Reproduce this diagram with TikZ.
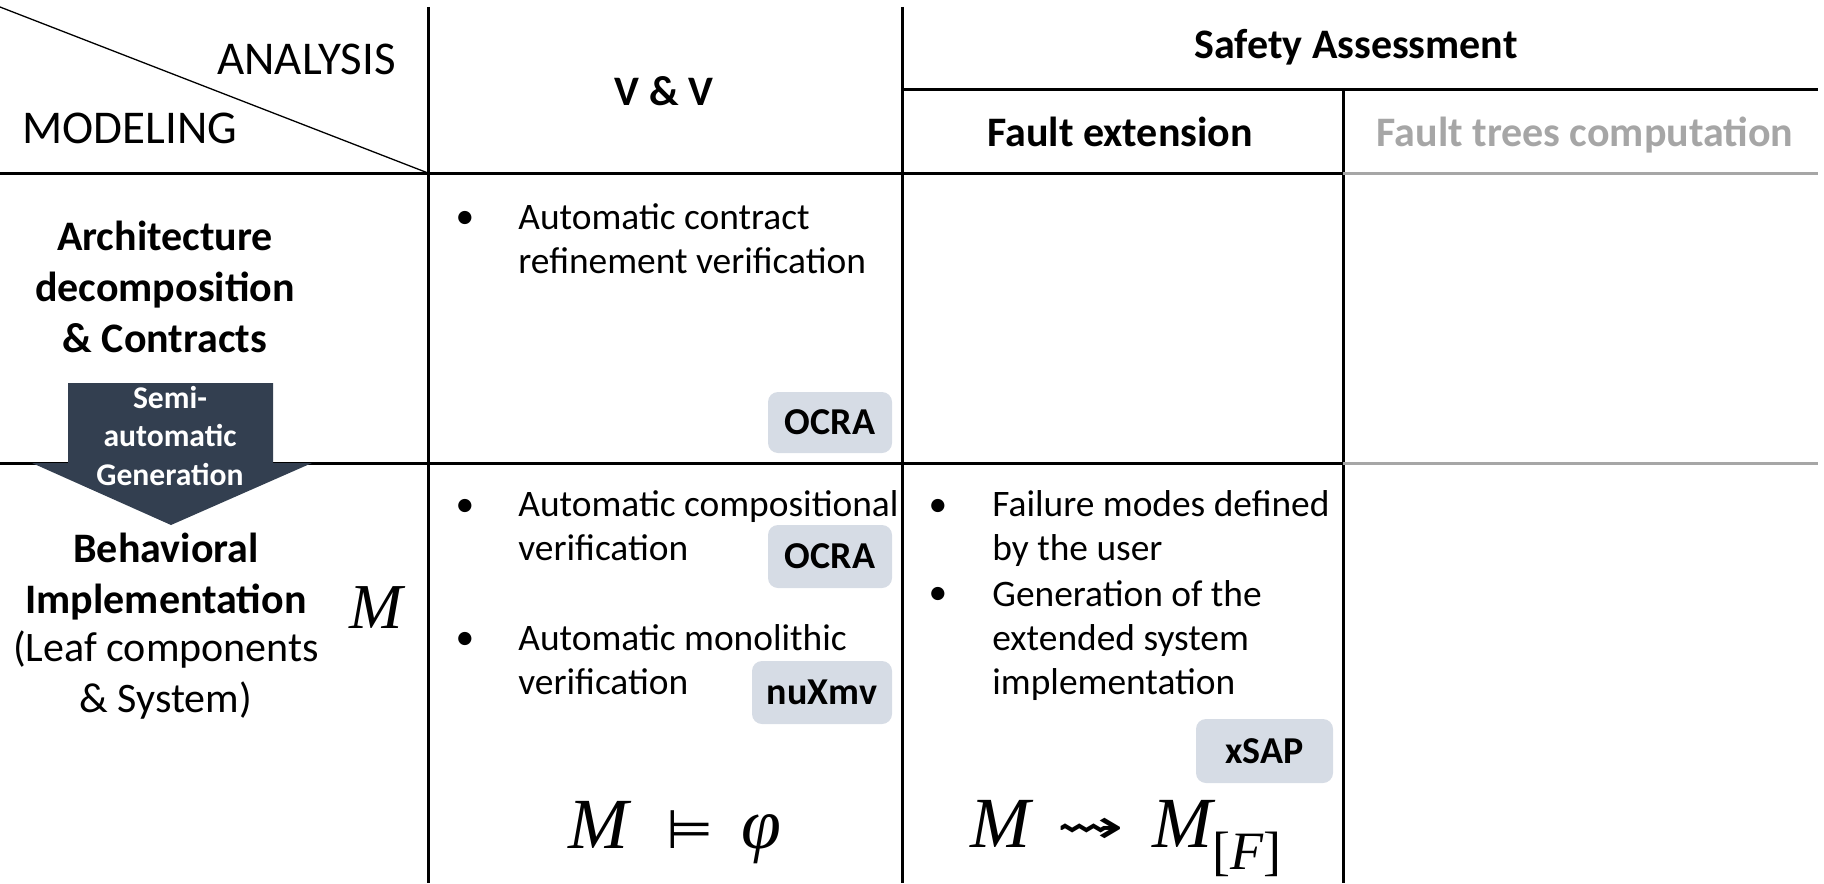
\documentclass[tikz,border=0pt]{standalone}
\usepackage{fontspec}
\setmainfont{Carlito}
\newfontfamily\mathser{Liberation Serif}
\newfontfamily\symfont{DejaVu Sans}
\usetikzlibrary{positioning,calc}
\definecolor{slate}{HTML}{333F50}
\definecolor{toolgray}{HTML}{D6DCE5}
\definecolor{fadegray}{HTML}{A6A6A6}
\tikzset{
  % tabell
  tabline/.style={draw=black,line width=1.5pt},
  tabfade/.style={draw=fadegray,line width=1.5pt},
  slash/.style={draw=black,line width=0.65pt},
  % rubriker
  corner/.style={font=\fontsize{23.5}{28}\selectfont,inner sep=0pt},
  hdr/.style={font=\fontsize{21}{25}\selectfont\bfseries,inner sep=0pt},
  rowhdr/.style={font=\fontsize{21}{25.5}\selectfont,align=center,inner sep=0pt},
  genlbl/.style={font=\fontsize{15.8}{19.25}\selectfont\bfseries,text=white,
                 align=center,inner sep=0pt},
  % celler
  body/.style={font=\fontsize{18.7}{22}\selectfont,align=left,inner sep=0pt},
  dot/.style={font=\fontsize{18.7}{22}\selectfont,inner sep=0pt,anchor=base},
  tool/.style={fill=toolgray,rounded corners=5pt,inner sep=0pt,
               font=\fontsize{19}{22}\selectfont\bfseries},
  formula/.style={font=\mathser\fontsize{36}{40}\selectfont\itshape,inner sep=0pt,
                  anchor=base west},
}

\begin{document}
\begin{tikzpicture}[x=0.5pt,y=-0.5pt]
  \useasboundingbox (0,0) rectangle (1824,883);
  % rutnätets hörn
  \coordinate (diag) at (0,7);
  \coordinate (c1t) at (428,7);    \coordinate (c1b) at (428,883);
  \coordinate (c2t) at (902,7);    \coordinate (c2b) at (902,883);
  \coordinate (c3t) at (1343,90);  \coordinate (c3b) at (1343,883);
  \coordinate (r0a) at (902,90);   \coordinate (r0b) at (1818,90);
  \coordinate (r1a) at (0,173);    \coordinate (r1m) at (1343,173);  \coordinate (r1b) at (1818,173);
  \coordinate (r2a) at (0,463);    \coordinate (r2m) at (1343,463);  \coordinate (r2b) at (1818,463);
  \draw[slash] (diag) -- (c1t |- r1a);
  \draw[tabline] (c1t) -- (c1b);
  \draw[tabline] (c2t) -- (c2b);
  \draw[tabline] (c3t) -- (c3b);
  \draw[tabline] (r0a) -- (r0b);
  \draw[tabline] (r1a) -- (r1m);
  \draw[tabline] (r2a) -- (r2m);
  \draw[tabfade] (r1m) -- (r1b);
  \draw[tabfade] (r2m) -- (r2b);
  % pil
  \fill[slate] (68,383) -- (273,383) -- (273,463) -- (312,463) -- (171,525)
    -- (32,463) -- (68,463) -- cycle;
  \node[genlbl,anchor=base] (semi) at (170,485) {Semi-\\automatic\\Generation};
  % rubriker
  \node[corner,anchor=base east] (analysis) at (396,75) {ANALYSIS};
  \node[corner,anchor=base west] (modeling) at (22,143) {MODELING};
  \node[hdr,anchor=base] (vv) at (664,105) {V \& V};
  \node[hdr,anchor=base] (safety) at (1356,59) {Safety Assessment};
  \node[hdr,anchor=base] (faultext) at (1120,147) {Fault extension};
  \node[hdr,anchor=base,text=fadegray] (faulttree) at (1585,147) {Fault trees computation};
  \node[rowhdr,anchor=base,font=\fontsize{21}{25.5}\selectfont\bfseries] (arch) at (165,352)
    {Architecture\\decomposition\\\& Contracts};
  \node[rowhdr,anchor=base,font=\fontsize{21}{25.5}\selectfont\bfseries] (behav) at (166,613)
    {Behavioral\\Implementation};
  \node[rowhdr,anchor=base] (leaf) at (166,712) {(Leaf components\\\& System)};
  \node[anchor=base,inner sep=0pt,font=\mathser\fontsize{32}{34}\selectfont\itshape]
    (mod) at (376,628) {M};
  % V & V
  \node[dot] (d1) at (465,228) {\textbullet};
  \node[body,anchor=base west] (t1) at (518,273) {Automatic contract\\refinement verification};
  \node[dot] (d2) at (465,516) {\textbullet};
  \node[body,anchor=base west] (t2) at (518,560) {Automatic compositional\\verification};
  \node[dot] (d3) at (465,649) {\textbullet};
  \node[body,anchor=base west] (t3) at (518,694) {Automatic monolithic\\verification};
  \node[tool,minimum width=62pt,minimum height=30.5pt] (ocra1) at (830,422.5) {OCRA};
  \node[tool,minimum width=62pt,minimum height=31.5pt] (ocra2) at (830,556.5) {OCRA};
  \node[tool,minimum width=70pt,minimum height=31.5pt] (nuxmv) at (822,692.5) {nuXmv};
  \node[formula] (sat) at (568,848)
    {M\hspace{19pt}{\symfont\upshape\fontsize{27}{30}\selectfont ⊨}\hspace{14pt}φ};
  % Fault extension
  \node[dot] (d4) at (938,516) {\textbullet};
  \node[body,anchor=base west] (t4) at (992,560) {Failure modes defined\\by the user};
  \node[dot] (d5) at (938,604) {\textbullet};
  \node[body,anchor=base west] (t5) at (992,694) {Generation of the\\extended system\\implementation};
  \node[tool,minimum width=68.5pt,minimum height=32pt] (xsap) at (1264.5,751) {xSAP};
  \node[formula] (ext) at (970,847)
    {M\hspace{13pt}\raisebox{2pt}{\scalebox{1.35}[0.8]{\symfont\upshape\fontsize{30}{32}\selectfont ⇝}}\hspace{14pt}M%
     \raisebox{-11pt}{\fontsize{27}{30}\selectfont\upshape[\itshape F\upshape]}};
\end{tikzpicture}
\end{document}
